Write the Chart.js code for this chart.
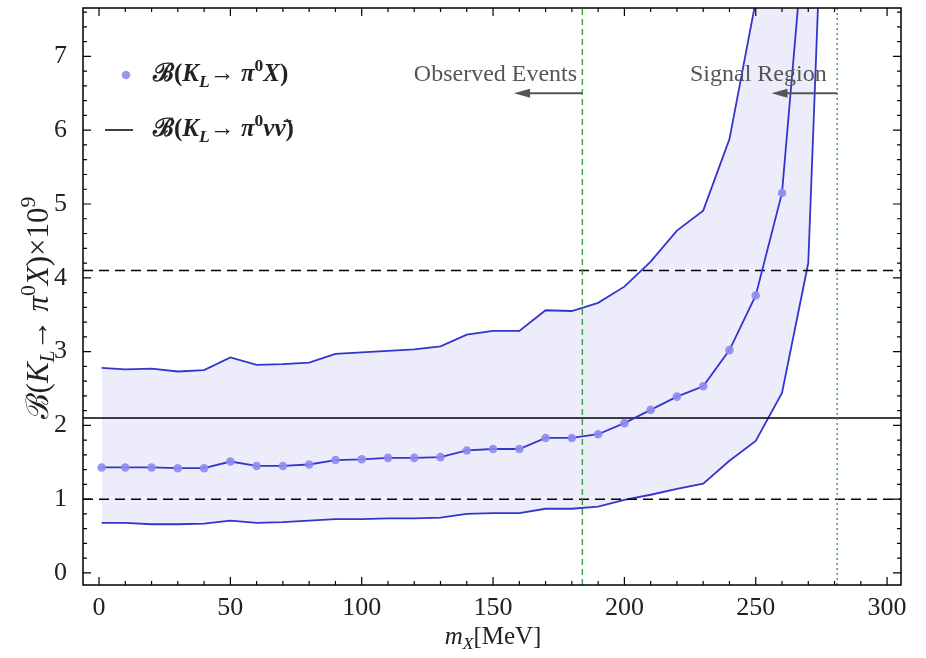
<!DOCTYPE html>
<html lang="en">
<head>
  <meta charset="UTF-8">
  <title>B(KL → π0 X) vs mX</title>
  <script src="https://cdn.jsdelivr.net/npm/chart.js"></script>
  <style>
    body { margin: 0; background: #fff; }
    canvas { display: block; }
  </style>
</head>
<body>
<canvas id="brChart" width="926" height="658"></canvas>
<script>
// --- data (branching ratio x 10^9 vs m_X in MeV) ---
const massX = [1, 10, 20, 30, 40, 50, 60, 70, 80, 90, 100, 110, 120, 130, 140, 150, 160, 170, 180, 190, 200, 210, 220, 230, 240, 250, 260, 270];
const centralBR = [1.43, 1.43, 1.43, 1.42, 1.42, 1.51, 1.45, 1.45, 1.47, 1.53, 1.54, 1.56, 1.56, 1.57, 1.66, 1.68, 1.68, 1.83, 1.83, 1.88, 2.03, 2.21, 2.39, 2.53, 3.02, 3.76, 5.15, 9.3];

const bandX = [1, 10, 20, 30, 40, 50, 60, 70, 80, 90, 100, 110, 120, 130, 140, 150, 160, 170, 180, 190, 200, 210, 220, 230, 240, 250, 260, 270, 275];
const upperBR = [2.78, 2.76, 2.77, 2.73, 2.75, 2.92, 2.82, 2.83, 2.85, 2.97, 2.99, 3.01, 3.03, 3.07, 3.23, 3.28, 3.28, 3.56, 3.55, 3.66, 3.88, 4.22, 4.64, 4.91, 5.88, 7.75, 11, 14, 15];
const lowerBR = [0.68, 0.68, 0.66, 0.66, 0.67, 0.71, 0.68, 0.69, 0.71, 0.73, 0.73, 0.74, 0.74, 0.75, 0.80, 0.81, 0.81, 0.87, 0.87, 0.90, 0.99, 1.06, 1.14, 1.21, 1.52, 1.79, 2.44, 4.2, 8.9];

// measured K_L -> pi0 nu nubar band (central, -1 sigma, +1 sigma)
const measuredBR = 2.1;
const measuredLow = 1.0;
const measuredHigh = 4.1;

// vertical markers
const observedCut = 184;
const signalCut = 281;

const xTicks = [0, 50, 100, 150, 200, 250, 300];
const yTicks = [0, 1, 2, 3, 4, 5, 6, 7];

const X_MIN = -6.1, X_MAX = 305.3;
const Y_MIN = -0.163, Y_MAX = 7.656;

const serif = '"Liberation Serif", "DejaVu Serif", serif';

function pts(xs, ys) { return xs.map((x, i) => ({ x: x, y: ys[i] })); }
function hline(v) { return [{ x: X_MIN, y: v }, { x: X_MAX, y: v }]; }
function vline(v) { return [{ x: v, y: Y_MIN }, { x: v, y: Y_MAX }]; }

// draw text made of pieces (italic / sub / sup)
function richWidth(ctx, parts, size, bold) {
  let w = 0;
  parts.forEach(p => {
    const s = p.sub || p.sup ? size * 0.7 : size;
    ctx.font = (p.i ? 'italic ' : '') + (bold ? 'bold ' : '') + s + 'px ' + serif;
    w += ctx.measureText(p.t).width;
  });
  return w;
}
function drawRich(ctx, parts, x, y, size, bold, align) {
  let cx = x;
  if (align === 'center') cx = x - richWidth(ctx, parts, size, bold) / 2;
  ctx.textBaseline = 'middle';
  ctx.textAlign = 'left';
  parts.forEach(p => {
    const s = p.sub || p.sup ? size * 0.7 : size;
    ctx.font = (p.i ? 'italic ' : '') + (bold ? 'bold ' : '') + s + 'px ' + serif;
    let dy = 0;
    if (p.sub) dy = size * 0.28;
    if (p.sup) dy = -size * 0.35;
    ctx.fillText(p.t, cx, y + dy);
    cx += ctx.measureText(p.t).width;
  });
}

const legendX = [
  { t: 'ℬ(' }, { t: 'K', i: true }, { t: 'L', i: true, sub: true }, { t: '→ ' },
  { t: 'π', i: true }, { t: '0', sup: true }, { t: 'X', i: true }, { t: ')' }
];
const legendNu = [
  { t: 'ℬ(' }, { t: 'K', i: true }, { t: 'L', i: true, sub: true }, { t: '→ ' },
  { t: 'π', i: true }, { t: '0', sup: true }, { t: 'νν̄', i: true }, { t: ')' }
];
const yTitle = [
  { t: 'ℬ(' }, { t: 'K', i: true }, { t: 'L', i: true, sub: true }, { t: '→ ' },
  { t: 'π', i: true }, { t: '0', sup: true }, { t: 'X', i: true }, { t: ')×10' }, { t: '9', sup: true }
];
const xTitle = [{ t: 'm', i: true }, { t: 'X', i: true, sub: true }, { t: '[MeV]' }];

function arrow(ctx, x1, x2, y) {
  ctx.strokeStyle = '#555';
  ctx.fillStyle = '#555';
  ctx.lineWidth = 2;
  ctx.beginPath();
  ctx.moveTo(x1, y);
  ctx.lineTo(x2 + 12, y);
  ctx.stroke();
  ctx.beginPath();
  ctx.moveTo(x2, y);
  ctx.lineTo(x2 + 16, y - 4.5);
  ctx.lineTo(x2 + 16, y + 4.5);
  ctx.closePath();
  ctx.fill();
}

const framePlugin = {
  id: 'frame',
  afterDraw(chart) {
    const ctx = chart.ctx;
    const a = chart.chartArea;
    const xs = chart.scales.x, ys = chart.scales.y;
    ctx.save();
    // frame
    ctx.strokeStyle = '#000';
    ctx.lineWidth = 1.5;
    ctx.strokeRect(a.left, a.top, a.right - a.left, a.bottom - a.top);
    // inward ticks
    ctx.lineWidth = 1.2;
    ctx.beginPath();
    for (let v = 0; v <= 300; v += 10) {
      const px = xs.getPixelForValue(v);
      const len = v % 50 === 0 ? 8 : 4;
      ctx.moveTo(px, a.bottom); ctx.lineTo(px, a.bottom - len);
      ctx.moveTo(px, a.top); ctx.lineTo(px, a.top + len);
    }
    for (let k = 0; k <= 38; k++) {
      const v = k * 0.2;
      const py = ys.getPixelForValue(v);
      const len = k % 5 === 0 ? 8 : 4;
      ctx.moveTo(a.left, py); ctx.lineTo(a.left + len, py);
      ctx.moveTo(a.right, py); ctx.lineTo(a.right - len, py);
    }
    ctx.stroke();

    // axis titles
    ctx.fillStyle = '#222';
    drawRich(ctx, xTitle, xs.getPixelForValue(150), 637, 25, false, 'center');
    ctx.save();
    ctx.translate(40, 308);
    ctx.rotate(-Math.PI / 2);
    drawRich(ctx, yTitle, 0, 0, 31, false, 'center');
    ctx.restore();

    // legend
    ctx.fillStyle = 'rgba(140,140,240,0.9)';
    ctx.beginPath();
    ctx.arc(126, 75, 4.3, 0, Math.PI * 2);
    ctx.fill();
    ctx.strokeStyle = '#000';
    ctx.lineWidth = 1.5;
    ctx.beginPath();
    ctx.moveTo(105, 130); ctx.lineTo(133, 130);
    ctx.stroke();
    ctx.fillStyle = '#222';
    drawRich(ctx, legendX, 153, 75, 25, true, 'left');
    drawRich(ctx, legendNu, 153, 130, 25, true, 'left');

    // region annotations
    const ay = ys.getPixelForValue(6.5);
    const ty = ys.getPixelForValue(6.75);
    arrow(ctx, xs.getPixelForValue(observedCut), xs.getPixelForValue(158), ay);
    arrow(ctx, xs.getPixelForValue(signalCut), xs.getPixelForValue(256), ay);
    ctx.fillStyle = '#555';
    ctx.font = '24px ' + serif;
    ctx.textAlign = 'right';
    ctx.textBaseline = 'middle';
    ctx.fillText('Observed Events', xs.getPixelForValue(182), ty);
    ctx.fillText('Signal Region', xs.getPixelForValue(277), ty);
    ctx.restore();
  }
};

const bandLine = '#3535cc';

new Chart(document.getElementById('brChart'), {
  type: 'line',
  data: {
    datasets: [
      {
        label: 'upper',
        data: pts(bandX, upperBR),
        borderColor: bandLine,
        borderWidth: 1.8,
        backgroundColor: '#ececfb',
        fill: '+1',
        pointRadius: 0,
        order: 10
      },
      {
        label: 'lower',
        data: pts(bandX, lowerBR),
        borderColor: bandLine,
        borderWidth: 1.8,
        fill: false,
        pointRadius: 0,
        order: 9
      },
      {
        label: 'central',
        data: hline(measuredBR),
        borderColor: '#000',
        borderWidth: 1.5,
        pointRadius: 0,
        order: 5
      },
      {
        label: 'low',
        data: hline(measuredLow),
        borderColor: '#000',
        borderWidth: 1.5,
        borderDash: [10, 6],
        pointRadius: 0,
        order: 5
      },
      {
        label: 'high',
        data: hline(measuredHigh),
        borderColor: '#000',
        borderWidth: 1.5,
        borderDash: [10, 6],
        pointRadius: 0,
        order: 5
      },
      {
        label: 'observed',
        data: vline(observedCut),
        borderColor: '#35a035',
        borderWidth: 1.4,
        borderDash: [6, 4],
        pointRadius: 0,
        order: 4
      },
      {
        label: 'signal',
        data: vline(signalCut),
        borderColor: '#35a035',
        borderWidth: 1.4,
        borderDash: [2, 3],
        pointRadius: 0,
        order: 4
      },
      {
        label: 'BR(KL -> pi0 X)',
        data: pts(massX, centralBR),
        borderColor: bandLine,
        borderWidth: 1.8,
        pointRadius: 4.3,
        pointBorderWidth: 0,
        pointBackgroundColor: 'rgba(140,140,240,0.9)',
        order: 1
      }
    ]
  },
  options: {
    responsive: false,
    animation: false,
    layout: { padding: { top: 8, right: 25, left: 0, bottom: 0 } },
    plugins: { legend: { display: false }, tooltip: { enabled: false } },
    elements: { line: { tension: 0 } },
    scales: {
      x: {
        type: 'linear',
        min: X_MIN,
        max: X_MAX,
        grid: { display: false },
        border: { display: false },
        afterFit: s => { s.height = 73; s.paddingLeft = 0; s.paddingRight = 0; },
        afterBuildTicks: s => { s.ticks = xTicks.map(v => ({ value: v })); },
        ticks: { padding: 0, color: '#222', font: { family: serif, size: 26 } }
      },
      y: {
        type: 'linear',
        min: Y_MIN,
        max: Y_MAX,
        grid: { display: false },
        border: { display: false },
        afterFit: s => { s.width = 83; s.paddingTop = 0; s.paddingBottom = 0; },
        afterBuildTicks: s => { s.ticks = yTicks.map(v => ({ value: v })); },
        ticks: { padding: 8, color: '#222', font: { family: serif, size: 26 } }
      }
    }
  },
  plugins: [framePlugin]
});
</script>
</body>
</html>
